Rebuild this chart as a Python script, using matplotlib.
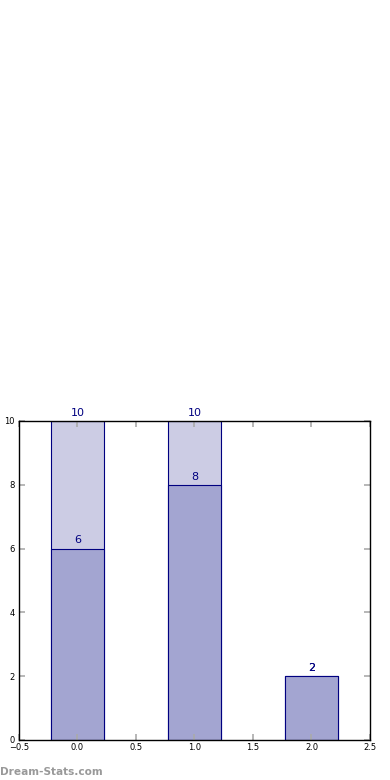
import matplotlib
matplotlib.use('Agg')
import matplotlib.pyplot as plt
import numpy as np

# data
positions = [0, 1, 2]
totals = [10, 10, 2]
counts = [6, 8, 2]

fig = plt.figure(figsize=(3.9, 7.8), dpi=100)
ax = fig.add_axes([0.0487, 0.0513, 0.9, 0.4090])

ax.bar(positions, totals, width=0.45, color='#ccccE4', edgecolor='#000080', linewidth=0.8)
ax.bar(positions, counts, width=0.45, color='#a3a5d1', edgecolor='#000080', linewidth=0.8)

for x, t in zip(positions, totals):
    ax.text(x, t + 0.1, str(t), ha='center', va='bottom', color='#000080', fontsize=8)
for x, c in zip(positions, counts):
    ax.text(x, c + 0.1, str(c), ha='center', va='bottom', color='#000080', fontsize=8)

ax.set_xlim(-0.5, 2.5)
ax.set_ylim(0, 10)
ax.set_xticks(np.arange(-0.5, 2.51, 0.5))
ax.set_yticks(range(0, 11, 2))
ax.tick_params(direction='in', top=True, right=True, length=4, width=1.2,
               color='#aaaaaa', labelsize=6, pad=2)
ax.tick_params(axis='y', pad=3)
for s in ax.spines.values():
    s.set_linewidth(1)

fig.text(0.0, 0.004, 'Dream-Stats.com', color='#999999', fontsize=7.6,
         fontweight='bold', ha='left', va='bottom')

fig.savefig('out.png', dpi=100)
